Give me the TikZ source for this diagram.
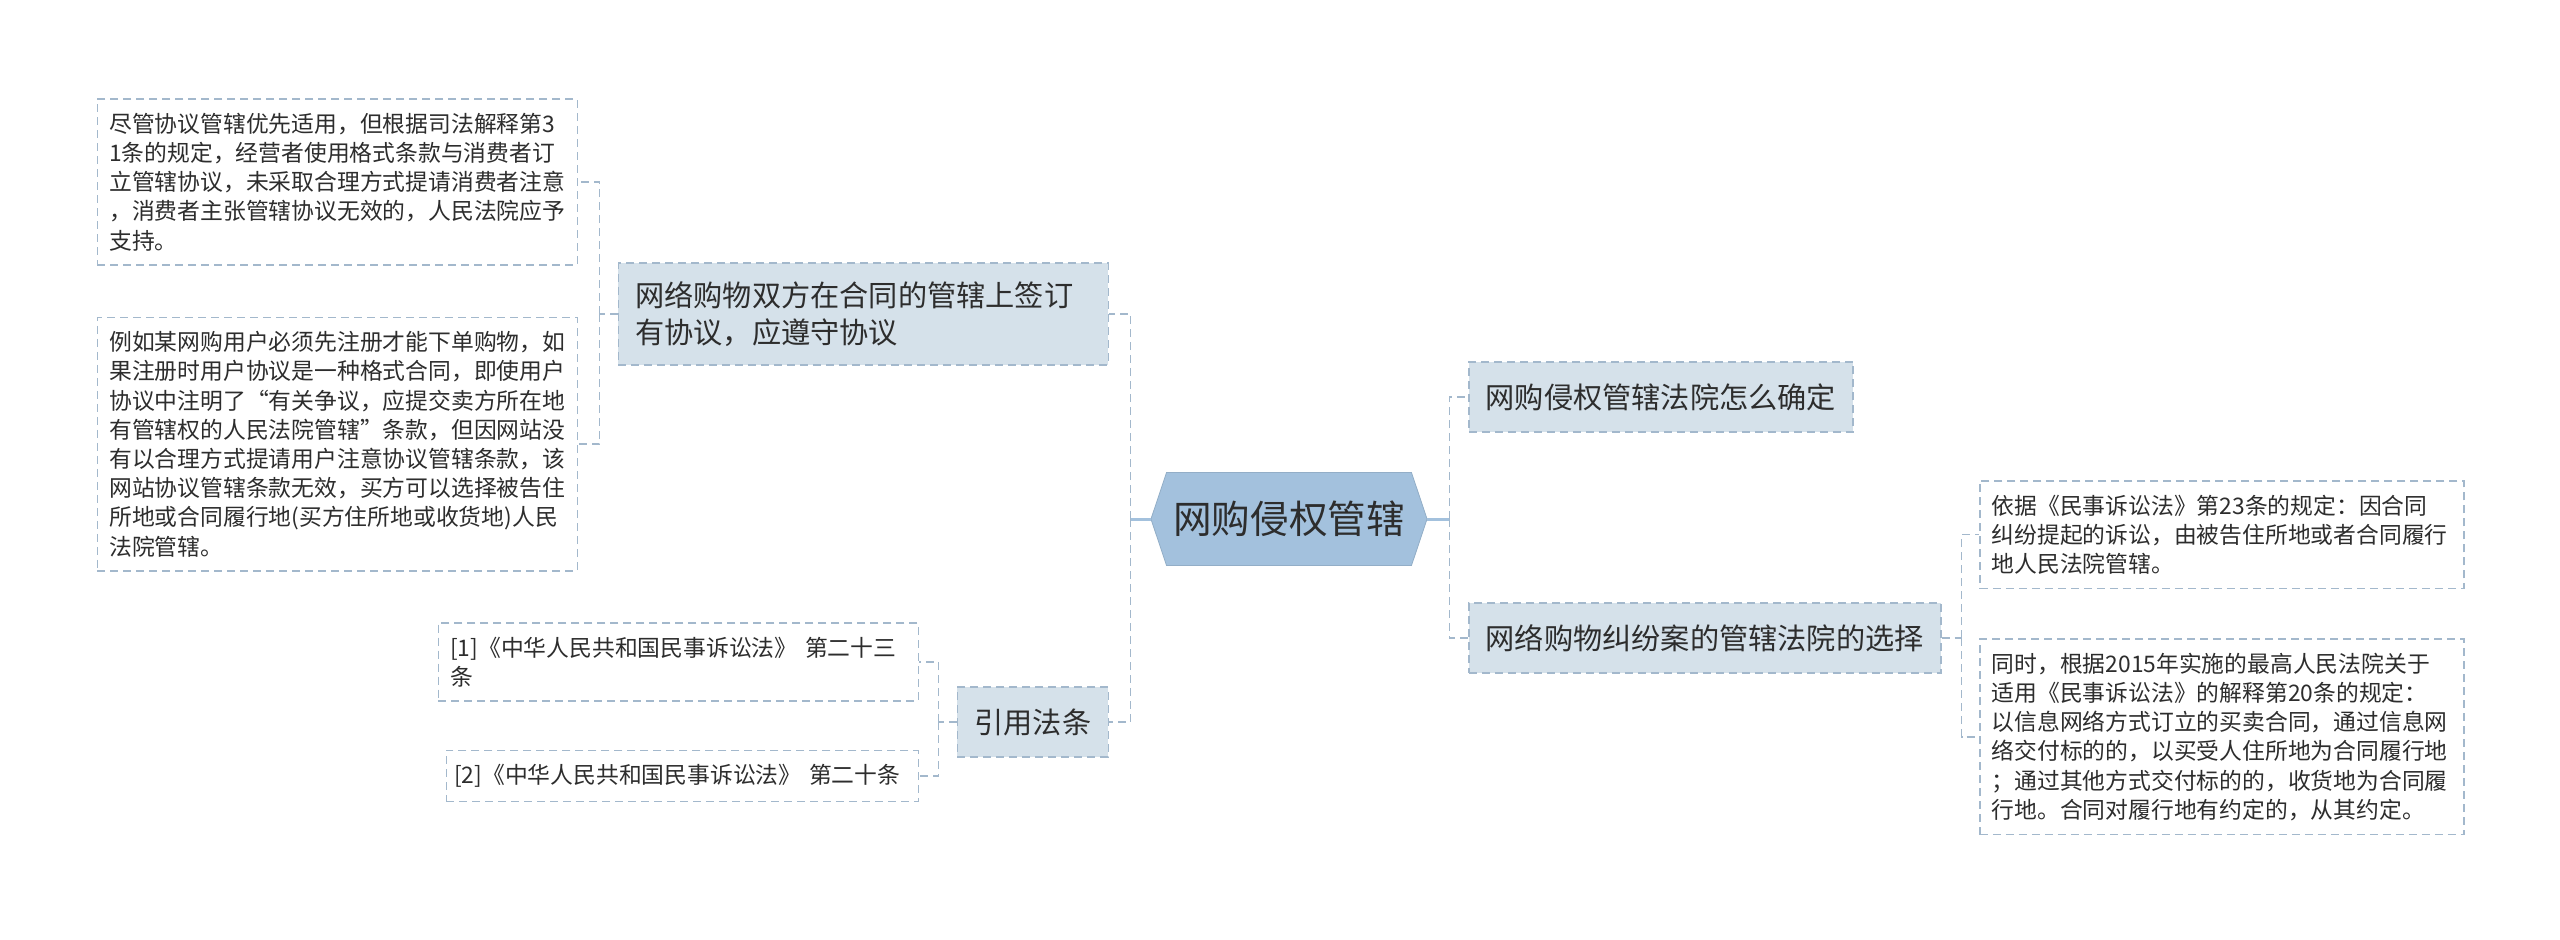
\documentclass[tikz,border=0pt]{standalone}
\usepackage{fontspec}
\setmainfont{Noto Sans CJK SC}
\usepackage{tikz}
\usetikzlibrary{positioning,shapes.symbols}
\definecolor{MapLine}{RGB}{163,184,204}
\definecolor{MapBranch}{RGB}{213,225,234}
\definecolor{MapRoot}{RGB}{163,193,221}
\definecolor{MapText}{RGB}{45,45,45}

\begin{document}
\begin{tikzpicture}[x=0.5pt, y=-0.5pt, node distance=24pt, line width=0.75pt]
    \tikzstyle{leaf}=[draw=MapLine, dash pattern=on 4pt off 2.5pt, fill=white, text=MapText, font=\fontsize{11.4pt}{14.6pt}\selectfont, align=left, text width=228pt, inner xsep=6pt, inner ysep=7pt]
    \tikzstyle{branch}=[draw=MapLine, dash pattern=on 4pt off 2.5pt, fill=MapBranch, text=MapText, font=\fontsize{14.6pt}{18.8pt}\selectfont, align=left, inner xsep=8.5pt, inner ysep=9pt, minimum height=35pt]
    \tikzstyle{topic}=[signal, signal to=west and east, signal pointer angle=143, fill=MapRoot, draw=MapRoot!90!black, line width=0.4pt, text=MapText, font=\fontsize{19.3pt}{23pt}\selectfont, minimum width=136pt, minimum height=46.5pt]
    \tikzstyle{link}=[draw=MapLine, dash pattern=on 4pt off 2.5pt]
    \tikzstyle{stem}=[draw=MapRoot, line width=1.5pt]
    \useasboundingbox (0,0) rectangle (2560,939);

    \node[topic] (root) at (1289,519) {网购侵权管辖};
    \node[branch, text width=228pt, anchor=east] (agree) at (1109,314) {网络购物双方在合同的管辖上签订\\有协议，应遵守协议};
    \node[branch, anchor=east] (laws) at (1109,722) {引用法条};
    \node[branch, anchor=west] (howto) at (1468,397) {网购侵权管辖法院怎么确定};
    \node[branch, anchor=west] (choice) at (1468,638) {网络购物纠纷案的管辖法院的选择};

    % left side leaves
    \node[leaf, anchor=east] (priority) at (578,182) {尽管协议管辖优先适用，但根据司法解释第3\\1条的规定，经营者使用格式条款与消费者订\\立管辖协议，未采取合理方式提请消费者注意\\，消费者主张管辖协议无效的，人民法院应予\\支持。};
    \node[leaf, below=25.5pt of priority] (example) {例如某网购用户必须先注册才能下单购物，如\\果注册时用户协议是一种格式合同，即使用户\\协议中注明了“有关争议，应提交卖方所在地\\有管辖权的人民法院管辖”条款，但因网站没\\有以合理方式提请用户注意协议管辖条款，该\\网站协议管辖条款无效，买方可以选择被告住\\所地或合同履行地(买方住所地或收货地)人民\\法院管辖。};
    \node[leaf, anchor=north east] (art23) at (919,622) {[1]《中华人民共和国民事诉讼法》 第二十三\\条};
    \node[leaf, inner xsep=4pt, below=24pt of art23.south east, anchor=north east] (art20) {\mbox{[2]《中华人民共和国民事诉讼法》~第二十条}};

    % right side leaves
    \node[leaf, text width=230pt, anchor=north west] (rule23) at (1979,480) {依据《民事诉讼法》第23条的规定：因合同\\纠纷提起的诉讼，由被告住所地或者合同履行\\地人民法院管辖。};
    \node[leaf, text width=230pt, below=24.5pt of rule23] (rule20) {同时，根据2015年实施的最高人民法院关于\\适用《民事诉讼法》的解释第20条的规定：\\以信息网络方式订立的买卖合同，通过信息网\\络交付标的的，以买受人住所地为合同履行地\\；通过其他方式交付标的的，收货地为合同履\\行地。合同对履行地有约定的，从其约定。};

    \draw[stem] (root.west) -- ++(-20,0) coordinate (lbus);
    \draw[link] (lbus) |- (agree.east);
    \draw[link] (lbus) |- (laws.east);
    \draw[stem] (root.east) -- ++(22,0) coordinate (rbus);
    \draw[link] (rbus) |- (howto.west);
    \draw[link] (rbus) |- (choice.west);

    \draw[link] (agree.west) -- ++(-18,0) coordinate (abus);
    \draw[link] (abus) |- (priority.east);
    \draw[link] (abus) |- (example.east);
    \draw[link] (laws.west) -- ++(-18,0) coordinate (cbus);
    \draw[link] (cbus) |- (art23.east);
    \draw[link] (cbus) |- (art20.east);
    \draw[link] (choice.east) -- ++(20,0) coordinate (dbus);
    \draw[link] (dbus) |- (rule23.west);
    \draw[link] (dbus) |- (rule20.west);
\end{tikzpicture}
\end{document}
